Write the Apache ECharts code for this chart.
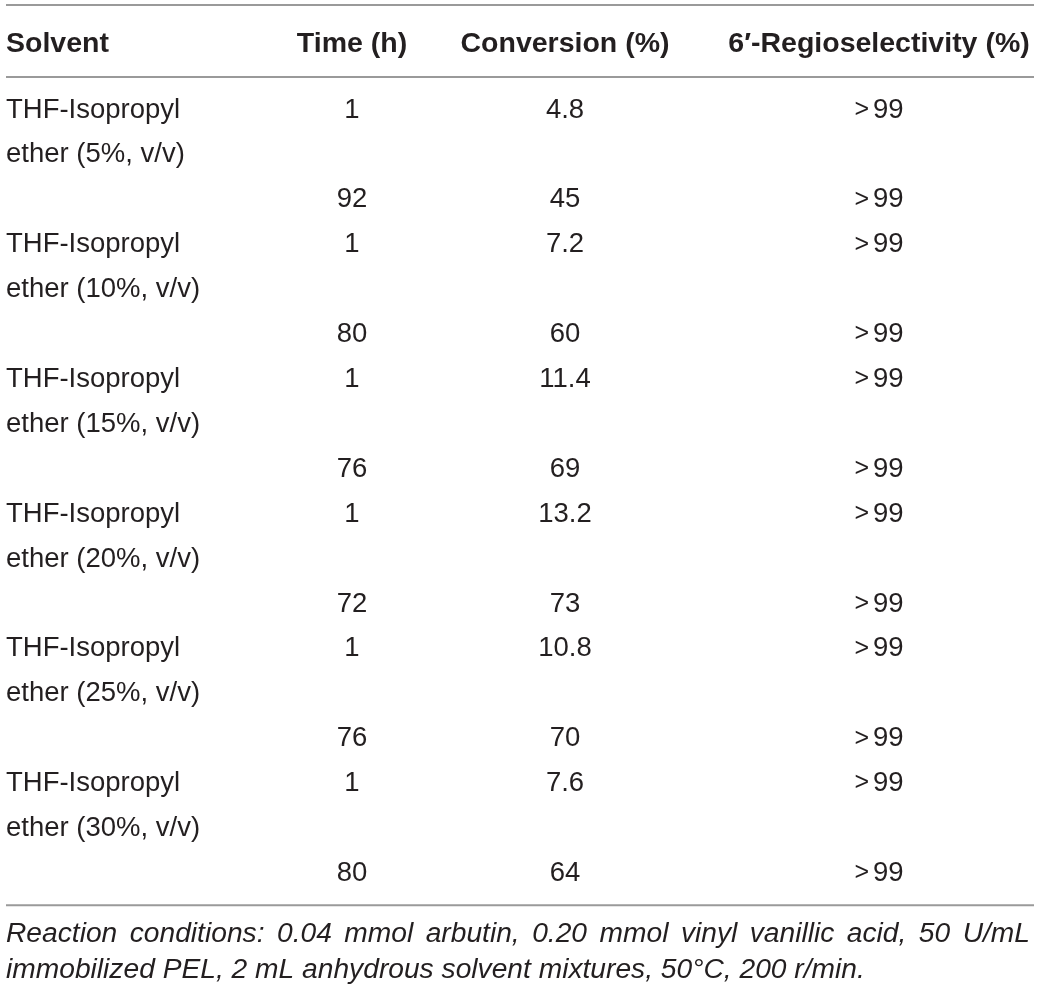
<!DOCTYPE html>
<html>
<head>
<meta charset="utf-8">
<script src="https://cdn.jsdelivr.net/npm/echarts@6/dist/echarts.min.js"></script>
<style>
  html, body { margin: 0; padding: 0; background: #fff; }
  #main { width: 1040px; height: 991px; }
</style>
</head>
<body>
<div id="main"></div>
<script>
(function () {
  'use strict';

  // table data
  var headers = ['Solvent', 'Time (h)', 'Conversion (%)', '6\u2032-Regioselectivity (%)'];
  var ratios = ['5%', '10%', '15%', '20%', '25%', '30%'];
  var timeStart = [1, 1, 1, 1, 1, 1];
  var timeEnd = [92, 80, 76, 72, 76, 80];
  var convStart = [4.8, 7.2, 11.4, 13.2, 10.8, 7.6];
  var convEnd = [45, 60, 69, 73, 70, 64];
  var regioStart = ['>99', '>99', '>99', '>99', '>99', '>99'];
  var regioEnd = ['>99', '>99', '>99', '>99', '>99', '>99'];
  var note = [
    'Reaction conditions: 0.04 mmol arbutin, 0.20 mmol vinyl vanillic acid, 50 U/mL',
    'immobilized PEL, 2 mL anhydrous solvent mixtures, 50\u00b0C, 200 r/min.'
  ];

  // layout (x in page-width units, y in text lines)
  var colX = [6, 352, 565, 879];
  var colAlign = ['left', 'center', 'center', 'center'];
  var headerLine = -1.47;
  var rules = [-2.34, -0.735, 17.71];
  var noteLines = [18.35, 19.15];
  var noteRight = 1030;
  var family = '"Helvetica Neue", "Liberation Sans", Arial, sans-serif';
  var fonts = {
    head: 'bold 28.5px ' + family,
    body: '27.5px ' + family,
    note: 'italic 28.2px ' + family
  };
  var ink = '#231f20';

  // cells: [col, line, text, kind, justify]
  var cells = [];
  headers.forEach(function (h, c) { cells.push([c, headerLine, h, 'head', 0]); });
  ratios.forEach(function (r, g) {
    var l = g * 3;
    cells.push([0, l, 'THF-Isopropyl', 'body', 0]);
    cells.push([0, l + 1, 'ether (' + r + ', v/v)', 'body', 0]);
    cells.push([1, l, String(timeStart[g]), 'body', 0]);
    cells.push([2, l, String(convStart[g]), 'body', 0]);
    cells.push([3, l, regioStart[g], 'body', 0]);
    cells.push([1, l + 2, String(timeEnd[g]), 'body', 0]);
    cells.push([2, l + 2, String(convEnd[g]), 'body', 0]);
    cells.push([3, l + 2, regioEnd[g], 'body', 0]);
  });
  note.forEach(function (t, i) { cells.push([0, noteLines[i], t, 'note', i < note.length - 1 ? 1 : 0]); });

  var ctx = document.createElement('canvas').getContext('2d');
  function measure(text, font) {
    ctx.font = font;
    return ctx.measureText(text).width;
  }

  var chart = echarts.init(document.getElementById('main'));

  chart.setOption({
    backgroundColor: '#fff',
    animation: false,
    grid: { left: 0, right: 0, top: 0, bottom: 0 },
    xAxis: { type: 'value', min: 0, max: 1040, show: false },
    yAxis: { type: 'value', min: -2.45, max: 19.62, inverse: true, show: false },
    series: [{
      type: 'custom',
      data: rules.map(function (y) { return [y]; }),
      renderItem: function (params, api) {
        var a = api.coord([6, api.value(0)]);
        var b = api.coord([1034, api.value(0)]);
        return {
          type: 'line',
          shape: { x1: a[0], y1: a[1], x2: b[0], y2: b[1] },
          style: { stroke: '#9a9a9a', lineWidth: 2 }
        };
      }
    }, {
      type: 'custom',
      data: cells,
      renderItem: function (params, api) {
        var cell = cells[params.dataIndex];
        var c = cell[0], text = cell[2], kind = cell[3];
        var font = fonts[kind];
        var p = api.coord([colX[c], cell[1]]);

        if (cell[4]) {
          // justified line: spread words to the right edge
          var words = text.split(' ');
          var widths = words.map(function (w) { return measure(w, font); });
          var total = widths.reduce(function (s, w) { return s + w; }, 0);
          var right = api.coord([noteRight, cell[1]])[0];
          var gap = (right - p[0] - total) / (words.length - 1);
          var x = p[0];
          return {
            type: 'group',
            children: words.map(function (w, i) {
              var el = {
                type: 'text', x: x, y: p[1],
                style: { text: w, fill: ink, font: font, align: 'left', verticalAlign: 'middle' }
              };
              x += widths[i] + gap;
              return el;
            })
          };
        }

        var style = { text: text, fill: ink, font: font, align: colAlign[c], verticalAlign: 'middle' };
        if (text.charAt(0) === '>') {
          style.text = '{gt|>}{n|' + text.slice(1) + '}';
          style.rich = {
            gt: { font: '25px ' + family, fill: ink, padding: [0, 4, 0, 0] },
            n: { font: font, fill: ink }
          };
        }
        return { type: 'text', x: p[0], y: p[1], style: style };
      }
    }]
  });
})();
</script>
</body>
</html>
